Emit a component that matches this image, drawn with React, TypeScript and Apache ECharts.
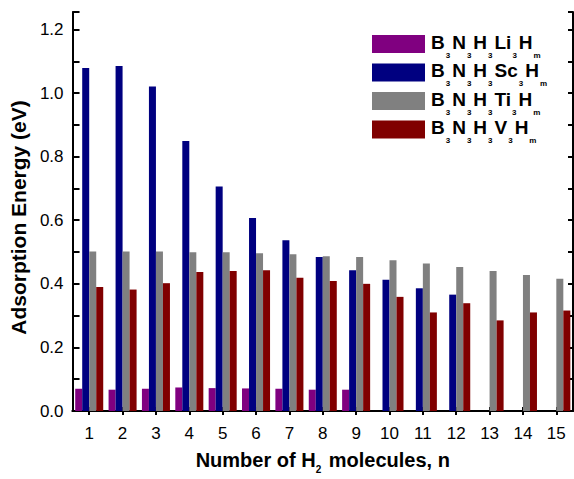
import React, { useEffect, useRef } from "react";
import * as echarts from "echarts";

const categories = ["1", "2", "3", "4", "5", "6", "7", "8", "9", "10", "11", "12", "13", "14", "15"];
const seriesNames = ["B3N3H3Li3Hm", "B3N3H3Sc3Hm", "B3N3H3Ti3Hm", "B3N3H3V3Hm"];
const liValues = [0.07, 0.067, 0.07, 0.074, 0.072, 0.071, 0.07, 0.067, 0.067, "-", "-", "-", "-", "-", "-"];
const scValues = [1.079, 1.085, 1.021, 0.849, 0.706, 0.607, 0.537, 0.484, 0.443, 0.413, 0.386, 0.366, "-", "-", "-"];
const tiValues = [0.502, 0.502, 0.502, 0.499, 0.499, 0.496, 0.493, 0.487, 0.484, 0.474, 0.464, 0.453, 0.44, 0.428, 0.416];
const vValues = [0.39, 0.382, 0.402, 0.437, 0.44, 0.443, 0.419, 0.409, 0.4, 0.359, 0.31, 0.339, 0.285, 0.31, 0.316];
const colors = ["#800080", "#000080", "#808080", "#800000"];
// legend label pieces: [main, subscript] pairs
const legendPieces: [string, string][][] = [
  [["B", "3"], ["N", "3"], ["H", "3"], ["Li", "3"], ["H", "m"]],
  [["B", "3"], ["N", "3"], ["H", "3"], ["Sc", "3"], ["H", "m"]],
  [["B", "3"], ["N", "3"], ["H", "3"], ["Ti", "3"], ["H", "m"]],
  [["B", "3"], ["N", "3"], ["H", "3"], ["V", "3"], ["H", "m"]],
];
const xName = "Number of H{s|2} molecules, n";
const yName = "Adsorption Energy (eV)";

const FONT = "'Liberation Sans', Arial, sans-serif";

function measure(text: string, font: string): number {
  const c = document.createElement("canvas").getContext("2d");
  if (!c) return text.length * 8;
  c.font = font;
  return c.measureText(text).width;
}

export default function App() {
  const ref = useRef<HTMLDivElement>(null);
  useEffect(() => {
    if (!ref.current) return;
    const chart = echarts.init(ref.current, null, { renderer: "svg" });
    const values = [liValues, scValues, tiValues, vValues];
    const axisLine = { show: true, lineStyle: { color: "#000", width: 2 } };

    const mainSize = 19;
    const mainFont = `bold ${mainSize}px ${FONT}`;
    const subFont = `bold 8px ${FONT}`;
    const legendGraphics: any[] = [];
    legendPieces.forEach((pieces, i) => {
      const top = 35 + i * 28.5;
      legendGraphics.push({
        type: "rect",
        shape: { x: 372, y: top, width: 53, height: 18 },
        style: { fill: colors[i] },
        silent: true,
      });
      let x = 431;
      const mainBase = top + 14;
      pieces.forEach(([main, sub]) => {
        legendGraphics.push({
          type: "text",
          x,
          y: mainBase - mainSize * 0.3465,
          style: { text: main, font: mainFont, fill: "#000", align: "left", verticalAlign: "middle", lineHeight: 15 },
          silent: true,
        });
        x += measure(main, mainFont) + 1;
        const subBase = top + 23;
        legendGraphics.push({
          type: "text",
          x,
          y: subBase - 8 * 0.3465,
          style: { text: sub, font: subFont, fill: "#000", align: "left", verticalAlign: "middle", lineHeight: 7 },
          silent: true,
        });
        x += measure(sub, subFont) + 2;
      });
    });

    chart.setOption({
      animation: false,
      backgroundColor: "#fff",
      textStyle: { fontFamily: FONT },
      grid: { left: 72, right: 1, top: 12, bottom: 59, containLabel: false },
      graphic: legendGraphics,
      xAxis: [
        {
          type: "category",
          data: categories,
          position: "bottom",
          axisLine,
          axisTick: { show: true, inside: true, alignWithLabel: true, length: 4, lineStyle: { color: "#000", width: 2 } },
          axisLabel: { color: "#000", fontSize: 17, margin: 14, fontFamily: FONT },
          name: xName,
          nameLocation: "middle",
          nameGap: 39,
          nameTextStyle: {
            color: "#000",
            fontSize: 20,
            fontWeight: "bold",
            lineHeight: 20,
            fontFamily: FONT,
            rich: {
              s: { fontSize: 10, fontWeight: "bold", color: "#000", lineHeight: 0, padding: [18, 2, 0, 0] },
            },
          },
        },
        {
          type: "category",
          data: categories,
          position: "top",
          axisLine,
          axisTick: { show: true, inside: true, alignWithLabel: true, length: 4, lineStyle: { color: "#000", width: 2 } },
          axisLabel: { show: false },
        },
      ],
      yAxis: [
        {
          type: "value",
          min: 0,
          max: 1.255,
          interval: 0.1,
          position: "left",
          axisLine,
          splitLine: { show: false },
          axisTick: { show: true, inside: true, length: 7, lineStyle: { color: "#000", width: 2 } },
          axisLabel: {
            color: "#000",
            fontSize: 17,
            margin: 9,
            fontFamily: FONT,
            formatter: (v: number) => {
              const t = v * 10;
              const r = Math.round(t);
              if (Math.abs(t - r) > 1e-6 || r % 2 !== 0) return "";
              return v.toFixed(1);
            },
          },
          name: yName,
          nameLocation: "middle",
          nameGap: 40,
          nameTextStyle: { color: "#000", fontSize: 21, fontWeight: "bold", fontFamily: FONT, padding: [0, 12, 0, 0] },
        },
        {
          type: "value",
          min: 0,
          max: 1.255,
          interval: 0.1,
          position: "right",
          axisLine,
          splitLine: { show: false },
          axisTick: { show: true, inside: true, length: 5, lineStyle: { color: "#000", width: 2 } },
          axisLabel: { show: false },
        },
      ],
      series: seriesNames.map((name, i) => ({
        name,
        type: "bar",
        data: values[i],
        xAxisIndex: 0,
        yAxisIndex: 0,
        barGap: "0%",
        barCategoryGap: "16%",
        itemStyle: { color: colors[i] },
      })),
    });
    return () => chart.dispose();
  }, []);
  return <div ref={ref} style={{ position: "absolute", left: 0, top: 0, width: 574, height: 479 }} />;
}
